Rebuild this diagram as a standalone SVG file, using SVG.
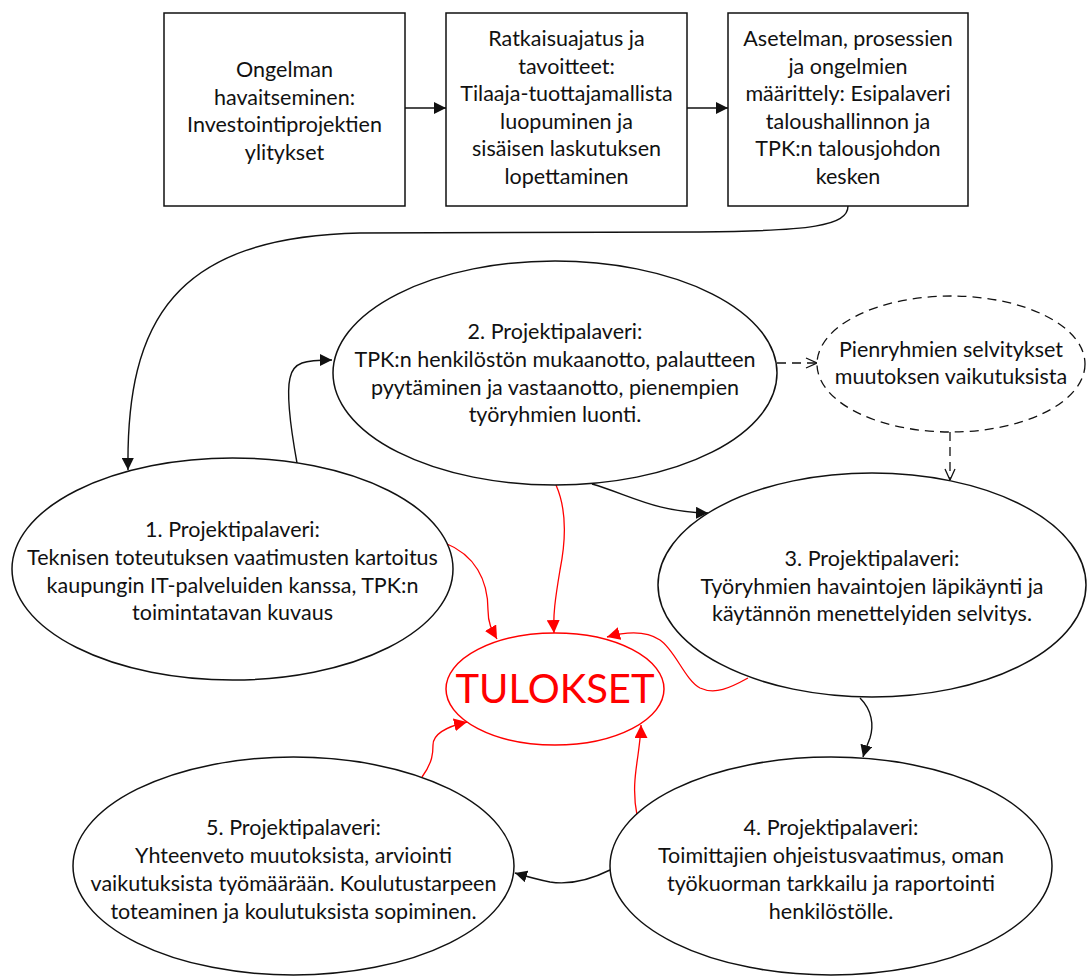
<svg xmlns="http://www.w3.org/2000/svg" width="1088" height="978" viewBox="0 0 1088 978">
  <style>
    text { font-family: Lato, "Open Sans", "Liberation Sans", sans-serif; font-size: 21.5px; fill: #111; text-anchor: middle; }
    .box { fill: #fff; stroke: #111; stroke-width: 1.5; }
    .node { fill: #fff; stroke: #111; stroke-width: 1.5; }
    .dash { fill: #fff; stroke: #111; stroke-width: 1.3; stroke-dasharray: 9 6; }
    .result { fill: #fff; stroke: #f00; stroke-width: 1.5; }
    .result-text { font-size: 40px; fill: #f00; }
    .c { fill: none; stroke: #111; stroke-width: 1.4; }
    .cd { fill: none; stroke: #111; stroke-width: 1.3; stroke-dasharray: 9 6; }
    .cr { fill: none; stroke: #f00; stroke-width: 1.3; }
  </style>
  <defs>
    <marker id="ah" viewBox="0 0 12 12" refX="12" refY="6" markerWidth="12" markerHeight="12" markerUnits="userSpaceOnUse" orient="auto">
      <path d="M0,0 L12,6 L0,12 Z" fill="#111"/>
    </marker>
    <marker id="ahr" viewBox="0 0 12 12" refX="12" refY="6" markerWidth="13" markerHeight="13" markerUnits="userSpaceOnUse" orient="auto">
      <path d="M0,0 L12,6 L0,12 Z" fill="#f00"/>
    </marker>
    <marker id="ahv" viewBox="0 0 12 12" refX="12" refY="6" markerWidth="12" markerHeight="12" markerUnits="userSpaceOnUse" orient="auto">
      <path d="M1,1 L12,6 L1,11" fill="none" stroke="#111" stroke-width="1.3"/>
    </marker>
  </defs>

  <!-- connectors -->
  <g id="connectors">
    <path class="c" d="M405,108 L446,108" marker-end="url(#ah)"/>
    <path class="c" d="M687,108 L728,108" marker-end="url(#ah)"/>
    <path class="c" d="M848,206 C848,226 810,231 700,232 L360,233 C175,237 126,320 128,470" marker-end="url(#ah)"/>
    <path class="c" d="M297,463 C291,430 286,395 290,378 C293,362 305,360 332,360" marker-end="url(#ah)"/>
    <path class="c" d="M592,484 C630,495 655,512 708,513" marker-end="url(#ah)"/>
    <path class="cd" d="M777,363 L817,363" marker-end="url(#ahv)"/>
    <path class="cd" d="M950,432 L950,480" marker-end="url(#ahv)"/>
    <path class="c" d="M860,698 C872,710 874,725 870,738 C867,746 865,750 863,757" marker-end="url(#ah)"/>
    <path class="c" d="M610,870 C590,880 570,885 550,882 C535,879 525,876 515,873" marker-end="url(#ah)"/>
    <path class="cr" d="M445,543 C475,555 488,580 488,610 C488,625 493,632 497,639" marker-end="url(#ahr)"/>
    <path class="cr" d="M556,485 C567,510 566,540 560,570 C555,600 553,615 554,633" marker-end="url(#ahr)"/>
    <path class="cr" d="M748,678 C730,688 715,695 700,688 C685,680 675,650 660,640 C645,630 625,632 607,637" marker-end="url(#ahr)"/>
    <path class="cr" d="M422,777 C433,762 433,752 433,745 C433,735 445,727 467,722" marker-end="url(#ahr)"/>
    <path class="cr" d="M637,815 C632,790 636,770 638,755 C640,740 641,732 641,725" marker-end="url(#ahr)"/>
  </g>

  <g id="box-ongelma">
    <rect class="box" x="164" y="13" width="241" height="193"/>
    <text x="284.5" y="77">Ongelman</text>
    <text x="284.5" y="104.6">havaitseminen:</text>
    <text x="284.5" y="132.2">Investointiprojektien</text>
    <text x="284.5" y="159.8">ylitykset</text>
  </g>

  <g id="box-ratkaisu">
    <rect class="box" x="446" y="13" width="241" height="193"/>
    <text x="566.5" y="46">Ratkaisuajatus ja</text>
    <text x="566.5" y="73.6">tavoitteet:</text>
    <text x="566.5" y="101.2">Tilaaja-tuottajamallista</text>
    <text x="566.5" y="128.8">luopuminen ja</text>
    <text x="566.5" y="156.4">sisäisen laskutuksen</text>
    <text x="566.5" y="184">lopettaminen</text>
  </g>

  <g id="box-asetelma">
    <rect class="box" x="728" y="13" width="240" height="193"/>
    <text x="848" y="46">Asetelman, prosessien</text>
    <text x="848" y="73.6">ja ongelmien</text>
    <text x="848" y="101.2">määrittely: Esipalaveri</text>
    <text x="848" y="128.8">taloushallinnon ja</text>
    <text x="848" y="156.4">TPK:n talousjohdon</text>
    <text x="848" y="184">kesken</text>
  </g>

  <g id="palaveri-2">
    <ellipse class="node" cx="555" cy="373" rx="222" ry="112"/>
    <text x="555" y="339">2. Projektipalaveri:</text>
    <text x="555" y="367">TPK:n henkilöstön mukaanotto, palautteen</text>
    <text x="555" y="395">pyytäminen ja vastaanotto, pienempien</text>
    <text x="555" y="422">työryhmien luonti.</text>
  </g>

  <g id="pienryhmat">
    <ellipse class="dash" cx="951" cy="364" rx="134" ry="68"/>
    <text x="951" y="357">Pienryhmien selvitykset</text>
    <text x="951" y="384">muutoksen vaikutuksista</text>
  </g>

  <g id="palaveri-1">
    <ellipse class="node" cx="232.5" cy="569" rx="220.5" ry="111"/>
    <text x="232.5" y="537">1. Projektipalaveri:</text>
    <text x="232.5" y="565">Teknisen toteutuksen vaatimusten kartoitus</text>
    <text x="232.5" y="593">kaupungin IT-palveluiden kanssa, TPK:n</text>
    <text x="232.5" y="620">toimintatavan kuvaus</text>
  </g>

  <g id="palaveri-3">
    <ellipse class="node" cx="872" cy="585" rx="214" ry="112"/>
    <text x="872" y="566">3. Projektipalaveri:</text>
    <text x="872" y="594">Työryhmien havaintojen läpikäynti ja</text>
    <text x="872" y="621">käytännön menettelyiden selvitys.</text>
  </g>

  <g id="palaveri-4">
    <ellipse class="node" cx="831" cy="866" rx="221" ry="109"/>
    <text x="831" y="835">4. Projektipalaveri:</text>
    <text x="831" y="863">Toimittajien ohjeistusvaatimus, oman</text>
    <text x="831" y="891">työkuorman tarkkailu ja raportointi</text>
    <text x="831" y="919">henkilöstölle.</text>
  </g>

  <g id="palaveri-5">
    <ellipse class="node" cx="293.5" cy="866" rx="220.5" ry="109"/>
    <text x="293.5" y="835">5. Projektipalaveri:</text>
    <text x="293.5" y="863">Yhteenveto muutoksista, arviointi</text>
    <text x="293.5" y="891">vaikutuksista työmäärään. Koulutustarpeen</text>
    <text x="293.5" y="919">toteaminen ja koulutuksista sopiminen.</text>
  </g>

  <g id="tulokset">
    <ellipse class="result" cx="555" cy="689" rx="109" ry="56"/>
    <text class="result-text" x="555" y="703">TULOKSET</text>
  </g>
</svg>
